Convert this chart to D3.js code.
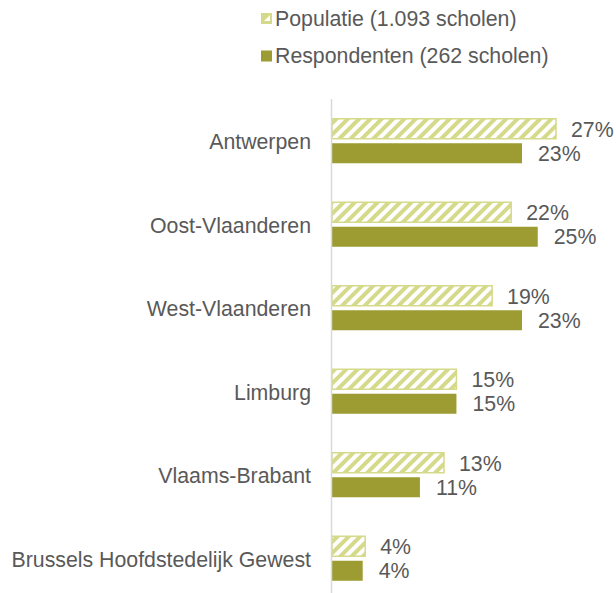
<!DOCTYPE html>
<html><head><meta charset="utf-8">
<script src="https://cdn.jsdelivr.net/npm/d3@7/dist/d3.min.js"></script>
<style>body{margin:0;background:#fff}svg{display:block}</style>
</head><body>
<svg id="c" width="616" height="593"></svg>
<script>
const categories = ["Antwerpen","Oost-Vlaanderen","West-Vlaanderen","Limburg","Vlaams-Brabant","Brussels Hoofdstedelijk Gewest"];
const populatie = [27.0, 21.6, 19.3, 15.0, 13.5, 4.0];
const respondenten = [22.9, 24.8, 22.9, 15.0, 10.6, 3.7];
const populatieLabels = ["27%","22%","19%","15%","13%","4%"];
const respondentenLabels = ["23%","25%","23%","15%","11%","4%"];
const seriesNames = ["Populatie (1.093 scholen)","Respondenten (262 scholen)"];

const svg = d3.select("#c");
const font = "'Liberation Sans', Arial, sans-serif";
const fs = 21.3;
const textCol = "#595959";
const lightCol = "#d5d98a";
const darkCol = "#9c9c33";

const defs = svg.append("defs");
const pat = defs.append("pattern").attr("id","hatch").attr("patternUnits","userSpaceOnUse")
  .attr("width",8).attr("height",8).attr("patternTransform","rotate(45)");
pat.append("rect").attr("width",8).attr("height",8).attr("fill","#fff");
pat.append("rect").attr("width",4).attr("height",8).attr("fill",lightCol);

const x0 = 332;
const x = d3.scaleLinear().domain([0, 27]).range([x0, 556]);
const y = d3.scaleBand().domain(categories).range([99, 600]).paddingInner(0).paddingOuter(0);
const barH = 20;

const g = svg.append("g");
categories.forEach((c,i)=>{
  const cy = y(c) + y.bandwidth()/2 + 0.5;
  g.append("rect").attr("x",x(0)).attr("y",cy-barH-2.5).attr("width",x(populatie[i])-x(0)).attr("height",barH)
    .attr("fill","url(#hatch)").attr("stroke",lightCol).attr("stroke-width",1.5);
  g.append("rect").attr("x",x(0)).attr("y",cy+2).attr("width",x(respondenten[i])-x(0)).attr("height",barH)
    .attr("fill",darkCol);
  g.append("text").attr("x",x(populatie[i])+15).attr("y",cy-4.5).text(populatieLabels[i])
    .attr("font-family",font).attr("font-size",fs).attr("fill",textCol);
  g.append("text").attr("x",x(respondenten[i])+16).attr("y",cy+19.5).text(respondentenLabels[i])
    .attr("font-family",font).attr("font-size",fs).attr("fill",textCol);
  g.append("text").attr("x",311).attr("y",cy+8).attr("text-anchor","end").text(c)
    .attr("font-family",font).attr("font-size",fs).attr("fill",textCol);
});

svg.append("line").attr("x1",x0-0.5).attr("x2",x0-0.5).attr("y1",99).attr("y2",593)
  .attr("stroke","#d9d9d9").attr("stroke-width",1.5);

const leg = svg.append("g");
leg.append("rect").attr("x",261).attr("y",13).attr("width",11).attr("height",11).attr("fill",lightCol);
leg.append("path").attr("d","M264,21 L270,15 L270,21 Z").attr("fill","#fff");
leg.append("text").attr("x",275).attr("y",26).text(seriesNames[0])
  .attr("font-family",font).attr("font-size",fs).attr("fill",textCol);
leg.append("rect").attr("x",261).attr("y",50.5).attr("width",11).attr("height",11).attr("fill",darkCol);
leg.append("text").attr("x",275).attr("y",63).text(seriesNames[1])
  .attr("font-family",font).attr("font-size",fs).attr("fill",textCol);
</script>
</body></html>
